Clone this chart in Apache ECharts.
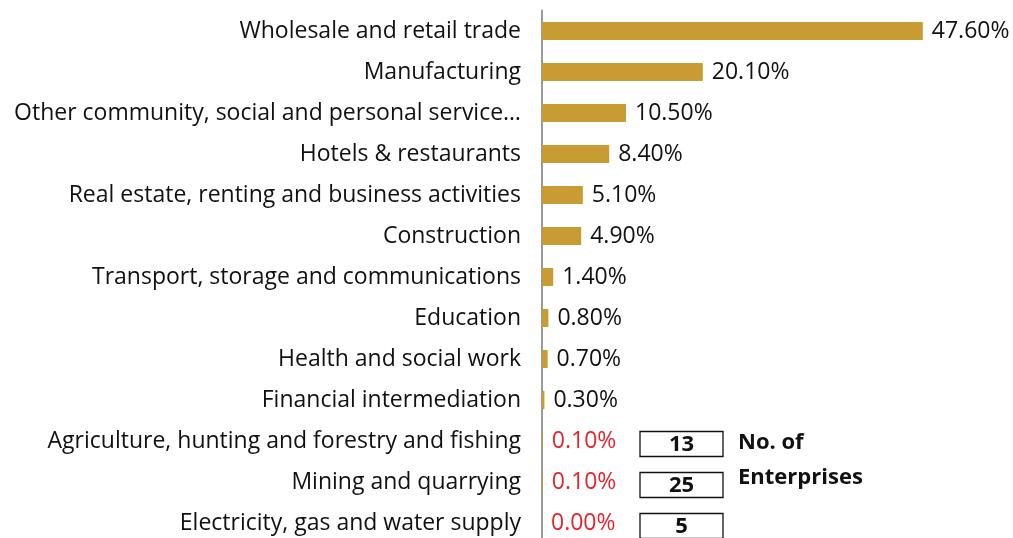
<!DOCTYPE html>
<html>
<head>
<meta charset="utf-8">
<script src="https://cdn.jsdelivr.net/npm/echarts@6/dist/echarts.min.js"></script>
<style>
  html, body { margin: 0; padding: 0; background: #fff; }
  #chart { width: 1013px; height: 538px; }
</style>
</head>
<body>
<div id="chart"></div>
<script>
// Share of enterprises by industry (%)
const categories = [
  'Wholesale and retail trade',
  'Manufacturing',
  'Other community, social and personal service\u2026',
  'Hotels & restaurants',
  'Real estate, renting and business activities',
  'Construction',
  'Transport, storage and communications',
  'Education',
  'Health and social work',
  'Financial intermediation',
  'Agriculture, hunting and forestry and fishing',
  'Mining and quarrying',
  'Electricity, gas and water supply'
];
const shares = [47.6, 20.1, 10.5, 8.4, 5.1, 4.9, 1.4, 0.8, 0.7, 0.3, 0.1, 0.1, 0.0];
// Number of enterprises shown for the smallest sectors
const enterpriseCategories = [
  'Agriculture, hunting and forestry and fishing',
  'Mining and quarrying',
  'Electricity, gas and water supply'
];
const enterpriseCounts = [13, 25, 5];
const highlightCategories = enterpriseCategories;

const FONT = 'Open Sans';
const BAR = '#C89B33';
const RED = '#E8242B';

const chart = echarts.init(document.getElementById('chart'), null, { renderer: 'canvas' });

chart.setOption({
  animation: false,
  grid: { left: 542, top: 10.5, width: 400, height: 533, outerBoundsMode: 'none' },
  xAxis: {
    type: 'value', min: 0, max: 50,
    show: false
  },
  yAxis: {
    type: 'category',
    data: categories,
    inverse: true,
    axisLine: { show: true, lineStyle: { color: '#9a9a9a', width: 2 } },
    axisTick: { show: false },
    axisLabel: { color: '#111', fontFamily: FONT, fontSize: 23, margin: 21 }
  },
  series: [
    {
      type: 'bar',
      data: shares.map((v, i) => ({
        value: v,
        label: { color: highlightCategories.includes(categories[i]) ? RED : '#111' }
      })),
      barWidth: 18,
      itemStyle: { color: BAR },
      label: {
        show: true, position: 'right', distance: 9,
        fontFamily: FONT, fontSize: 23,
        formatter: p => p.value.toFixed(2) + '%'
      }
    },
    {
      type: 'custom',
      data: enterpriseCategories.map((c, i) => [c, enterpriseCounts[i], i]),
      encode: { y: 0 },
      z: 5,
      renderItem: (params, api) => {
        const cy = api.coord([0, api.value(0)])[1] + 3;
        const gx = params.coordSys.x;
        const x0 = gx + 98, w = 83, h = 25;
        const children = [
          { type: 'rect', shape: { x: x0, y: cy - h / 2, width: w, height: h },
            style: { fill: '#fff', stroke: '#111', lineWidth: 1.3 } },
          { type: 'text', style: { x: x0 + w / 2, y: cy + 1, text: String(api.value(1)),
            align: 'center', verticalAlign: 'middle', font: 'bold 22px "' + FONT + '"', fill: '#111' } }
        ];
        return { type: 'group', children };
      }
    }
  ],
  graphic: []
});

// Caption beside the count boxes
const y1 = chart.convertToPixel({ yAxisIndex: 0 }, enterpriseCategories[0]);
const y2 = chart.convertToPixel({ yAxisIndex: 0 }, enterpriseCategories[1]);
chart.setOption({
  graphic: [
    { type: 'text', left: 738, top: y1 - 9, style: { text: 'No. of', font: 'bold 22px "' + FONT + '"', fill: '#111' } },
    { type: 'text', left: 738, top: y2 - 15, style: { text: 'Enterprises', font: 'bold 22px "' + FONT + '"', fill: '#111' } }
  ]
});
</script>
</body>
</html>
